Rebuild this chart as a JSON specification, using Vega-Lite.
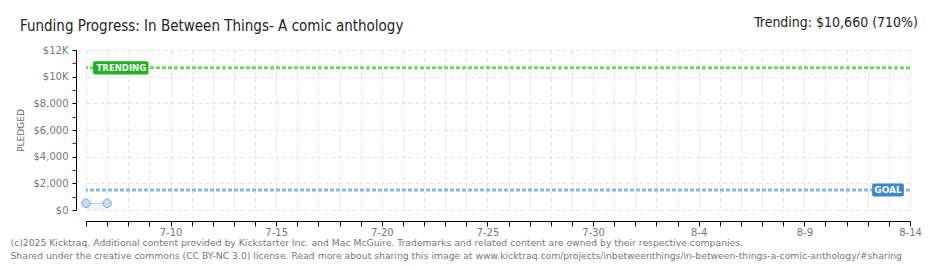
{
  "$schema": "https://vega.github.io/schema/vega-lite/v6.json",
  "width": 824,
  "height": 160,
  "autosize": {"type": "none"},
  "padding": {"left": 86, "top": 50, "right": 30, "bottom": 60},
  "background": "white",
  "title": {
    "text": "Funding Progress: In Between Things- A comic anthology",
    "anchor": "start",
    "frame": "group",
    "dx": -66,
    "dy": 18,
    "offset": 0,
    "font": "DejaVu Sans Condensed, Liberation Sans Narrow, Roboto",
    "fontSize": 15,
    "fontWeight": "normal",
    "color": "#222222"
  },
  "config": {
    "view": {"stroke": null},
    "axis": {
      "labelFont": "DejaVu Sans",
      "labelFontSize": 10,
      "labelColor": "#777777",
      "domainColor": "#000000",
      "tickColor": "#000000",
      "gridColor": "#e2e2e2",
      "gridDash": [4, 3]
    },
    "axisY": {"labelOverlap": false}
  },
  "datasets": {
    "pledged": [
      {"date": "2025-07-06", "pledged": 500},
      {"date": "2025-07-07", "pledged": 500}
    ],
    "refs": [
      {"name": "TRENDING", "value": 10660},
      {"name": "GOAL", "value": 1500}
    ],
    "header": [
      {"label": "Trending:  $10,660 (710%)"}
    ]
  },
  "layer": [
    {
      "data": {"name": "pledged"},
      "mark": {"type": "area", "color": "#eaf2fc", "line": {"color": "#a9c8ee", "strokeWidth": 1}},
      "encoding": {
        "x": {
          "field": "date",
          "type": "temporal",
          "scale": {"type": "utc", "domain": ["2025-07-06", "2025-08-14"]},
          "axis": {
            "tickCount": {"interval": "day", "step": 1},
            "offset": 11,
            "tickSize": 5,
            "labelOverlap": false,
            "labelFlush": false,
            "labelPadding": 1,
            "labelExpr": "(round((datum.value - utc(2025,6,6))/86400000) % 5 == 4) ? utcFormat(datum.value, '%-m-%-d') : ''",
            "grid": true,
            "title": [
              "(c)2025 Kicktraq. Additional content provided by Kickstarter Inc. and Mac McGuire. Trademarks and related content are owned by their respective companies.",
              "Shared under the creative commons (CC BY-NC 3.0) license. Read more about sharing this image at www.kicktraq.com/projects/inbetweenthings/in-between-things-a-comic-anthology/#sharing"
            ],
            "titleFont": "DejaVu Sans",
            "titleFontSize": 9.25,
            "titleFontWeight": "normal",
            "titleColor": "#777777",
            "titleAnchor": "start",
            "titleAlign": "left",
            "titleBaseline": "top",
            "titleX": -76,
            "titleY": 17,
            "titleLineHeight": 13
          }
        },
        "y": {
          "field": "pledged",
          "type": "quantitative",
          "scale": {"domain": [0, 12000], "nice": false},
          "axis": {
            "values": [0, 1000, 2000, 3000, 4000, 5000, 6000, 7000, 8000, 9000, 10000, 11000, 12000],
            "tickCount": 13,
            "offset": 10,
            "tickSize": 4,
            "tickColor": {"condition": {"test": "datum.value % 2000 != 0", "value": "#dd0000"}, "value": "#000000"},
            "gridOpacity": {"condition": {"test": "datum.value % 2000 != 0", "value": 0}, "value": 1},
            "labelFontSize": {"condition": {"test": "datum.value % 2000 != 0", "value": 0}, "value": 10},
            "labelExpr": "datum.value % 2000 != 0 ? '' : (datum.value >= 10000 ? '$' + datum.value/1000 + 'K' : '$' + format(datum.value, ','))",
            "labelOverlap": false,
            "labelFlush": false,
            "labelPadding": 4,
            "grid": true,
            "title": "PLEDGED",
            "titleFont": "DejaVu Sans",
            "titleFontSize": 9,
            "titleFontWeight": "normal",
            "titleColor": "#666666",
            "titlePadding": 8
          }
        }
      }
    },
    {
      "data": {"name": "pledged"},
      "mark": {"type": "point", "filled": true, "size": 70, "fill": "#c6dcf6", "stroke": "#7ea8dd", "strokeWidth": 1, "opacity": 1},
      "encoding": {
        "x": {"field": "date", "type": "temporal"},
        "y": {"field": "pledged", "type": "quantitative"}
      }
    },
    {
      "data": {"name": "refs"},
      "mark": {"type": "rule", "strokeWidth": 3, "strokeDash": [4, 2]},
      "encoding": {
        "y": {"field": "value", "type": "quantitative"},
        "color": {
          "field": "name",
          "type": "nominal",
          "scale": {"domain": ["TRENDING", "GOAL"], "range": ["#74d65e", "#8cb6e8"]},
          "legend": null
        }
      }
    },
    {
      "data": {"name": "refs"},
      "transform": [{"filter": "datum.name == 'TRENDING'"}],
      "mark": {"type": "rect", "color": "#1fb21f", "cornerRadius": 2},
      "encoding": {
        "x": {"datum": {"year": 2025, "month": 7, "date": 6, "hours": 8, "utc": true}},
        "x2": {"datum": {"year": 2025, "month": 7, "date": 8, "hours": 23, "utc": true}},
        "y": {"datum": 10170},
        "y2": {"datum": 11150}
      }
    },
    {
      "data": {"name": "refs"},
      "transform": [{"filter": "datum.name == 'TRENDING'"}],
      "mark": {"type": "text", "color": "white", "font": "DejaVu Sans", "fontSize": 8.5, "fontWeight": "bold", "align": "left", "baseline": "middle", "dx": 0},
      "encoding": {
        "x": {"datum": {"year": 2025, "month": 7, "date": 6, "hours": 12, "utc": true}},
        "y": {"field": "value", "type": "quantitative"},
        "text": {"field": "name"}
      }
    },
    {
      "data": {"name": "refs"},
      "transform": [{"filter": "datum.name == 'GOAL'"}],
      "mark": {"type": "rect", "color": "#3b86d8", "cornerRadius": 2},
      "encoding": {
        "x": {"datum": {"year": 2025, "month": 8, "date": 12, "hours": 5, "utc": true}},
        "x2": {"datum": {"year": 2025, "month": 8, "date": 13, "hours": 17, "utc": true}},
        "y": {"datum": 1010},
        "y2": {"datum": 1990}
      }
    },
    {
      "data": {"name": "refs"},
      "transform": [{"filter": "datum.name == 'GOAL'"}],
      "mark": {"type": "text", "color": "white", "font": "DejaVu Sans", "fontSize": 9, "fontWeight": "bold", "align": "center", "baseline": "middle"},
      "encoding": {
        "x": {"datum": {"year": 2025, "month": 8, "date": 12, "hours": 23, "utc": true}},
        "y": {"field": "value", "type": "quantitative"},
        "text": {"field": "name"}
      }
    },
    {
      "data": {"name": "header"},
      "mark": {"type": "text", "align": "right", "baseline": "middle", "dx": 8, "font": "DejaVu Sans Condensed, Liberation Sans Narrow, Roboto", "fontSize": 14, "color": "#222222", "clip": false},
      "encoding": {
        "x": {"datum": {"year": 2025, "month": 8, "date": 14, "utc": true}},
        "y": {"datum": 14000},
        "text": {"field": "label"}
      }
    }
  ]
}
